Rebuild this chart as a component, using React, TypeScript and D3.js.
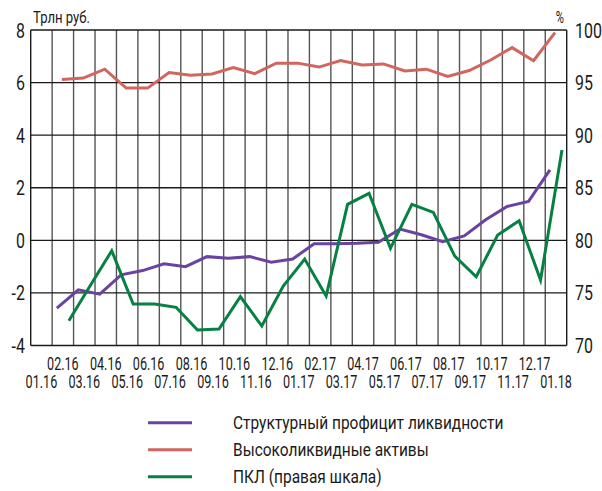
import { useEffect, useRef } from 'react';
import * as d3 from 'd3';

const months = [
  '01.16', '02.16', '03.16', '04.16', '05.16', '06.16', '07.16', '08.16', '09.16',
  '10.16', '11.16', '12.16', '01.17', '02.17', '03.17', '04.17', '05.17', '06.17',
  '07.17', '08.17', '09.17', '10.17', '11.17', '12.17', '01.18',
];

// Структурный профицит ликвидности, трлн руб.
const surplus = [
  null, -2.58, -1.88, -2.05, -1.31, -1.15, -0.89, -1.0, -0.62, -0.68, -0.62, -0.83,
  -0.71, -0.13, -0.13, -0.11, -0.07, 0.43, 0.21, -0.05, 0.17, 0.78, 1.29, 1.48, 2.68,
];

// Высоколиквидные активы, трлн руб.
const hqla = [
  null, 6.12, 6.17, 6.51, 5.79, 5.79, 6.38, 6.28, 6.33, 6.57, 6.34, 6.74, 6.74,
  6.59, 6.84, 6.67, 6.71, 6.44, 6.51, 6.23, 6.46, 6.86, 7.33, 6.83, 7.9,
];

// ПКЛ, % (правая шкала)
const lcr = [
  null, 72.36, 75.7, 79.01, 73.94, 73.94, 73.63, 71.47, 71.57, 74.64, 71.85, 75.66,
  78.22, 74.7, 83.42, 84.47, 79.24, 83.42, 82.66, 78.5, 76.54, 80.5, 81.86, 76.23, 88.58,
];

const leftTicks = [-4, -2, 0, 2, 4, 6, 8];
const rightTicks = [70, 75, 80, 85, 90, 95, 100];

const legendItems = [
  { label: 'Структурный профицит ликвидности', color: '#6a43a0' },
  { label: 'Высоколиквидные активы', color: '#d2655d' },
  { label: 'ПКЛ (правая шкала)', color: '#078043' },
];

const FONT = 'Roboto, "Liberation Sans", sans-serif';

export default function App() {
  const svgRef = useRef<SVGSVGElement | null>(null);

  useEffect(() => {
    const svg = d3.select(svgRef.current);
    svg.selectAll('*').remove();

    const left = 30.7;
    const right = 566.7;
    const top = 30;
    const bottom = 345.5;

    const x = d3.scaleBand<string>().domain(months).range([left, right]).padding(0);
    const yL = d3.scaleLinear().domain([-4, 8]).range([bottom, top]);
    const yR = d3.scaleLinear().domain([70, 100]).range([bottom, top]);

    const g = svg.append('g').style('font-family', FONT);

    // condensed text: position by translate, squeeze horizontally
    const squeeze = (px: number, py: number, sx: number) =>
      `translate(${px},${py}) scale(${sx},1)`;

    // vertical grid
    g.selectAll('.vgrid')
      .data(months.slice(1))
      .enter()
      .append('line')
      .attr('x1', d => x(d)!)
      .attr('x2', d => x(d)!)
      .attr('y1', top)
      .attr('y2', bottom)
      .attr('stroke', '#555')
      .attr('stroke-width', 1.4);

    // horizontal grid
    g.selectAll('.hgrid')
      .data(leftTicks)
      .enter()
      .append('line')
      .attr('x1', left)
      .attr('x2', right)
      .attr('y1', d => yL(d))
      .attr('y2', d => yL(d))
      .attr('stroke', '#1a1a1a')
      .attr('stroke-width', 1.4);

    // frame sides
    [left, right].forEach(px => {
      g.append('line')
        .attr('x1', px).attr('x2', px)
        .attr('y1', top).attr('y2', bottom)
        .attr('stroke', '#1a1a1a')
        .attr('stroke-width', 1.4);
    });

    // left tick labels
    g.selectAll('.lt')
      .data(leftTicks)
      .enter()
      .append('text')
      .attr('transform', d => squeeze(25, yL(d), 0.76))
      .attr('dy', '0.36em')
      .attr('text-anchor', 'end')
      .attr('font-size', 21)
      .attr('fill', '#1a1a1a')
      .text(d => String(d));

    // right tick labels
    g.selectAll('.rt')
      .data(rightTicks)
      .enter()
      .append('text')
      .attr('transform', d => squeeze(575, yR(d), 0.76))
      .attr('dy', '0.36em')
      .attr('text-anchor', 'start')
      .attr('font-size', 21)
      .attr('fill', '#1a1a1a')
      .text(d => String(d));

    g.append('text')
      .attr('transform', squeeze(33, 23, 0.82))
      .attr('font-size', 16)
      .attr('fill', '#1a1a1a')
      .text('Трлн руб.');

    g.append('text')
      .attr('transform', squeeze(564, 23, 0.7))
      .attr('text-anchor', 'end')
      .attr('font-size', 16)
      .attr('fill', '#1a1a1a')
      .text('%');

    // x labels, two rows
    g.selectAll('.xl')
      .data(months)
      .enter()
      .append('text')
      .attr('transform', (d, i) =>
        squeeze(x(d)! + x.bandwidth() / 2, i % 2 === 1 ? 370 : 388, 0.72))
      .attr('text-anchor', 'middle')
      .attr('font-size', 17.5)
      .attr('fill', '#1a1a1a')
      .text(d => d);

    const series = [
      { values: surplus, scale: yL, color: legendItems[0].color, offset: -6 },
      { values: hqla, scale: yL, color: legendItems[1].color, offset: -1 },
      { values: lcr, scale: yR, color: legendItems[2].color, offset: 6 },
    ];

    series.forEach(s => {
      const pts = months
        .map((m, i) => ({ m, v: s.values[i] }))
        .filter(p => p.v !== null) as { m: string; v: number }[];
      const line = d3
        .line<{ m: string; v: number }>()
        .x(p => x(p.m)! + x.bandwidth() / 2 + s.offset)
        .y(p => s.scale(p.v));
      g.append('path')
        .datum(pts)
        .attr('d', line)
        .attr('fill', 'none')
        .attr('stroke', s.color)
        .attr('stroke-width', 3)
        .attr('stroke-linejoin', 'miter');
    });

    // legend
    const legend = g.selectAll('.lg').data(legendItems).enter().append('g')
      .attr('transform', (d, i) => `translate(0,${422.7 + i * 27})`);
    legend.append('line')
      .attr('x1', 148).attr('x2', 192)
      .attr('y1', 0).attr('y2', 0)
      .attr('stroke', d => d.color)
      .attr('stroke-width', 3);
    legend.append('text')
      .attr('transform', squeeze(233, 0, 0.86))
      .attr('dy', '0.36em')
      .attr('font-size', 18)
      .attr('fill', '#1a1a1a')
      .text(d => d.label);
  }, []);

  return (
    <svg
      ref={svgRef}
      width={602}
      height={491}
      style={{ position: 'absolute', left: 0, top: 0, background: '#fff' }}
    />
  );
}
